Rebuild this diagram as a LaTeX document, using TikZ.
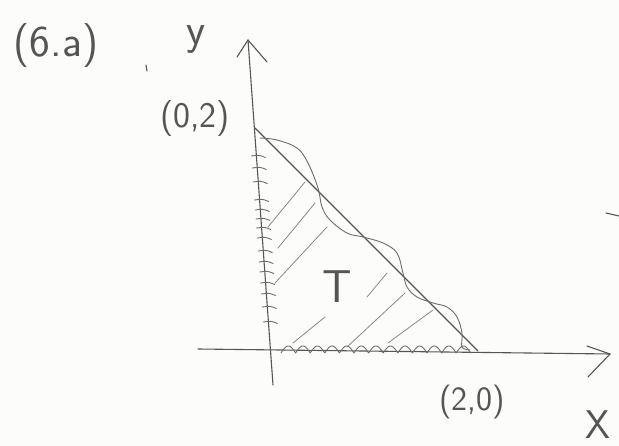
\documentclass[tikz,border=0pt]{standalone}
\usepackage{fontspec}
\definecolor{pencil}{RGB}{85,85,85}
\definecolor{paper}{RGB}{252,252,250}
\begin{document}
\begin{tikzpicture}[x=1pt,y=-1pt,
  pen/.style={draw=pencil, line width=1.1pt, line cap=round, line join=round},
  thinpen/.style={draw=pencil!85, line width=0.9pt, line cap=round, line join=round},
  hatch/.style={draw=pencil!70, line width=0.8pt, line cap=round},
  lbl/.style={text=pencil, inner sep=0pt, font=\sffamily\fontsize{#1}{#1}\selectfont}]
\fill[paper] (0,0) rectangle (619,446);
\useasboundingbox (0,0) rectangle (619,446);
% axes
\coordinate (ytop) at (248,40);
\coordinate (ybot) at (273,385);
\coordinate (xl) at (198,349);
\coordinate (xr) at (610,354);
\coordinate (ya1) at (237,57);
\coordinate (ya2) at (267,62);
\coordinate (xa1) at (587,346);
\coordinate (xa2) at (588,377);
\draw[pen] (ybot) -- (ytop);
\draw[pen] (ya1) -- (ytop) -- (ya2);
\draw[pen] (xl) -- (xr);
\draw[pen] (xa1) -- (xr) -- (xa2);
% hypotenuse
\coordinate (A) at (255,128);
\coordinate (B) at (478,351);
\draw[pen] (A) -- (B);
% wavy curve along hypotenuse
\draw[thinpen] plot[smooth, tension=0.6] coordinates {
  (260,138) (277,140) (297,148) (308,163) (318,188) (322,207) (330,220)
  (347,233) (363,237) (383,243) (397,253) (403,273) (407,287) (417,297)
  (433,303) (447,307) (457,317) (462,333) (462,347) (470,350)};
% wavy line along x axis
\draw[thinpen] plot[domain=0:13, samples=300] ({281+14.6*\x}, {353 - 7*abs(sin(\x*180))});
% ticks on y axis
\foreach \ty in {156,168,182,200,210,219,228,238,251,262,272,283,294,307,322}
  \draw[thinpen] ({248+(\ty-40)*25/345-5}, \ty) .. controls ({248+(\ty-40)*25/345+3}, {\ty-1}) .. ({248+(\ty-40)*25/345+9}, {\ty+1.5});
% hatching
\draw[hatch] (268,227) -- (305,182);
\draw[hatch] (278,248) -- (315,203);
\draw[hatch] (275,283) -- (327,227);
\draw[hatch] (293,343) -- (325,317);
\draw[hatch] (367,297) -- (387,273);
\draw[hatch] (347,347) -- (405,293);
\draw[hatch] (388,343) -- (433,310);
% labels
\node[lbl=44] (title) at (56,46) {(6.a)};
\node[lbl=44] (ylab) at (196,40) {y};
\node[lbl=36] (p02) at (195,119) {(0,2)};
\node[lbl=34] (p20) at (472,402) {(2,0)};
\node[lbl=46] (T) at (337,287) {T};
\node[lbl=40] (xlab) at (598,425) {X};
% stray marks
\draw[pen] (146,65) -- (147,71);
\draw[pen] (606,213) -- (619,216);
\end{tikzpicture}
\end{document}
